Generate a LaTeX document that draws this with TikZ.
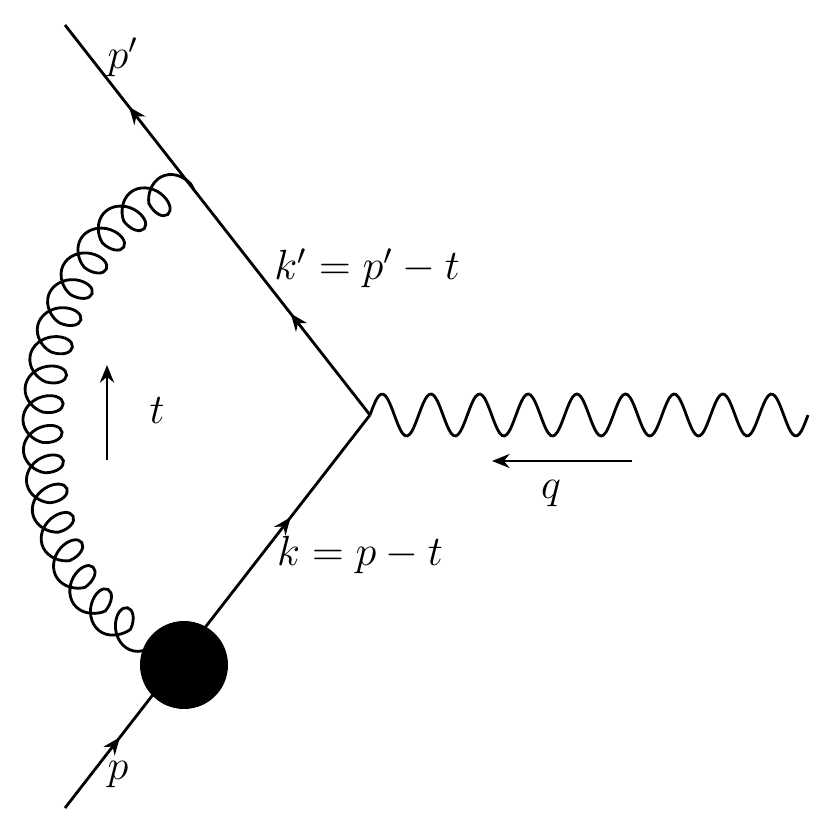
\documentclass[tikz,border=0pt]{standalone}
\usetikzlibrary{decorations.pathmorphing,decorations.markings,arrows.meta}
\begin{document}
\begin{tikzpicture}[x=0.01cm,y=-0.01cm,line width=0.8pt,
    >={Stealth[length=5pt,width=4pt]},
    gluon/.style={decorate,decoration={coil,aspect=0.75,amplitude=5.8pt,segment length=8.6pt}},
    lbl/.style={font=\large}]
\useasboundingbox (0,0) rectangle (830,828);
\coordinate (V) at (370,415);
\coordinate (T) at (65,25);
\coordinate (B) at (65,808);
\coordinate (G) at (194,190);

% fermion lines
\draw[postaction={decorate},decoration={markings,
    mark=at position 0.18 with {\arrow{>}},
    mark=at position 0.74 with {\arrow{>}}}] (B) -- (V);
\draw[postaction={decorate},decoration={markings,
    mark=at position 0.26 with {\arrow{>}},
    mark=at position 0.79 with {\arrow{>}}}] (V) -- (T);
\node[circle,fill=black,minimum size=88*0.01cm,inner sep=0] (blob) at (184,665) {};

% gluon and photon
\draw[gluon] (160,636) .. controls (0,600) and (0,230) .. (G);
\draw[smooth,samples=200,domain=0:438] plot (370+\x,{415-21*sin(\x/48.67*360)});

% momentum arrows
\draw[->] (632,461) -- (492,461);
\draw[->] (107,460) -- (107,365);

\node[lbl] (lp1) at (123,57) {$p'$};
\node[lbl] (lk1) at (367,268) {$k'=p'-t$};
\node[lbl] (lt) at (157,411) {$t$};
\node[lbl] (lq) at (551,494) {$q$};
\node[lbl] (lk) at (360,555) {$k=p-t$};
\node[lbl] (lp) at (118,775) {$p$};
\end{tikzpicture}
\end{document}
